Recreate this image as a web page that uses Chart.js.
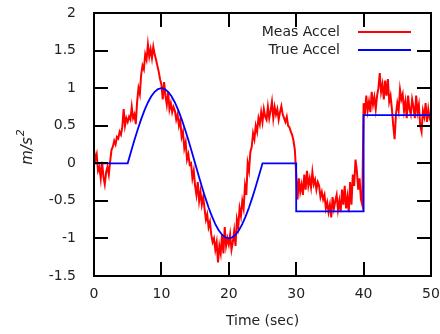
<!DOCTYPE html>
<html>
<head>
<meta charset="utf-8">
<script src="https://cdn.jsdelivr.net/npm/chart.js@4.4.0/dist/chart.umd.min.js"></script>
<style>
  html, body { margin: 0; padding: 0; background: #fff; }
  #wrap { width: 440px; height: 334px; }
</style>
</head>
<body>
<div id="wrap"><canvas id="accelChart" width="440" height="334"></canvas></div>
<script>
// measured acceleration, sampled every 0.2 s from t = 0 to t = 50
var measStep = 0.2;
var measAccel = [
    0.18, 0.05, 0.12, -0.1, -0.05, -0.2, 0.02, -0.18, -0.28, -0.12,
    -0.05, -0.15, 0.03, 0.18, 0.22, 0.3, 0.25, 0.35, 0.33, 0.42,
    0.38, 0.48, 0.72, 0.5, 0.6, 0.55, 0.62, 0.58, 0.75, 0.6,
    0.65, 0.52, 0.82, 1.0, 0.92, 1.18, 1.3, 1.25, 1.45, 1.38,
    1.58, 1.42, 1.52, 1.4, 1.55, 1.45, 1.38, 1.3, 1.22, 1.12,
    1.05, 0.85, 1.08, 0.9, 0.78, 0.95, 0.72, 0.8, 0.68, 0.75,
    0.7, 0.58, 0.65, 0.5, 0.58, 0.35, 0.42, 0.2, 0.28, 0.05,
    0.12, -0.02, 0.0, -0.2, -0.1, -0.3, -0.42, -0.25, -0.5, -0.38,
    -0.55, -0.45, -0.6, -0.75, -0.68, -0.85, -0.78, -0.95, -1.05, -1.0,
    -1.15, -1.05, -1.32, -1.1, -1.2, -0.95, -1.2, -0.85, -1.1, -1.0,
    -1.08, -0.95, -1.15, -1.05, -0.9, -1.1, -0.75, -0.85, -0.6, -0.7,
    -0.5, -0.6, -0.3, -0.42, 0.0, -0.1, 0.15, 0.22, 0.4, 0.32,
    0.5, 0.42, 0.6, 0.52, 0.68, 0.55, 0.72, 0.62, 0.58, 0.75,
    0.6, 0.7, 0.82, 0.6, 0.75, 0.65, 0.72, 0.58, 0.68, 0.76,
    0.65, 0.6, 0.55, 0.62, 0.5, 0.48, 0.42, 0.38, 0.3, 0.18,
    -0.15, -0.48, -0.2, -0.38, -0.28, -0.42, -0.15, -0.35, -0.1, -0.3,
    -0.2, -0.32, -0.12, -0.28, -0.22, -0.35, -0.25, -0.3, -0.45, -0.38,
    -0.48, -0.42, -0.6, -0.52, -0.65, -0.55, -0.72, -0.45, -0.6, -0.5,
    -0.42, -0.62, -0.5, -0.65, -0.35, -0.55, -0.3, -0.6, -0.45, -0.65,
    -0.25, -0.55, -0.15, -0.3, 0.05, -0.1, -0.35, -0.2, -0.48, -0.55,
    0.8, 0.65, 0.9, 0.7, 0.82, 0.68, 0.95, 0.78, 0.88, 0.72,
    0.9, 1.0, 1.2, 0.95, 1.05, 0.85, 1.1, 0.9, 1.12, 0.82,
    0.9, 0.72, 0.5, 0.32, 0.65, 0.8, 0.7, 0.98, 0.85, 0.92,
    0.7, 0.82, 0.6, 0.9, 0.72, 0.65, 0.85, 0.75, 0.6, 0.9,
    0.68, 0.78, 0.5, 0.42, 0.7, 0.62, 0.8, 0.55, 0.72, 0.6,
    0.55
];

// true acceleration
var trueTime = [0, 5, 5.5, 6, 6.5, 7, 7.5, 8, 8.5, 9, 9.5, 10, 10.5, 11, 11.5, 12, 12.5, 13, 13.5, 14, 14.5, 15,
    15.5, 16, 16.5, 17, 17.5, 18, 18.5, 19, 19.5, 20, 20.5, 21, 21.5, 22, 22.5, 23, 23.5, 24, 24.5, 25,
    30, 30, 40, 40, 50];
var trueAccel = [0, 0, 0.156, 0.309, 0.454, 0.588, 0.707, 0.809, 0.891, 0.951, 0.988, 1, 0.988, 0.951, 0.891, 0.809, 0.707, 0.588, 0.454, 0.309, 0.156, 0,
    -0.156, -0.309, -0.454, -0.588, -0.707, -0.809, -0.891, -0.951, -0.988, -1, -0.988, -0.951, -0.891, -0.809, -0.707, -0.588, -0.454, -0.309, -0.156, 0,
    0, -0.64, -0.64, 0.64, 0.64];

var seriesNames = ["Meas Accel", "True Accel"];
var seriesColors = ["#ff0000", "#0000ff"];
var xTicks = [0, 10, 20, 30, 40, 50];
var yTicks = [-1.5, -1, -0.5, 0, 0.5, 1, 1.5, 2];

var measPoints = measAccel.map(function (v, i) { return { x: Math.round(i * measStep * 10) / 10, y: v }; });
var truePoints = trueAccel.map(function (v, i) { return { x: trueTime[i], y: v }; });

var textColor = '#222';
var fontFamily = '"DejaVu Sans", sans-serif';

// gnuplot style frame, inward mirrored ticks, labels and legend
var framePlugin = {
    id: 'frame',
    afterDraw: function (chart) {
        var ctx = chart.ctx, a = chart.chartArea;
        var xs = chart.scales.x, ys = chart.scales.y;
        var tl = 14;
        ctx.save();
        ctx.strokeStyle = '#000000';
        ctx.lineWidth = 2;
        ctx.setLineDash([]);
        xTicks.forEach(function (t) {
            var px = Math.round(xs.getPixelForValue(t));
            ctx.beginPath();
            ctx.moveTo(px, a.bottom); ctx.lineTo(px, a.bottom - tl);
            ctx.moveTo(px, a.top); ctx.lineTo(px, a.top + tl);
            ctx.stroke();
        });
        yTicks.forEach(function (t) {
            var py = Math.round(ys.getPixelForValue(t));
            ctx.beginPath();
            ctx.moveTo(a.left, py); ctx.lineTo(a.left + tl, py);
            ctx.moveTo(a.right, py); ctx.lineTo(a.right - tl, py);
            ctx.stroke();
        });
        ctx.beginPath();
        ctx.rect(a.left, a.top, a.right - a.left, a.bottom - a.top);
        ctx.stroke();

        // tick labels
        ctx.fillStyle = textColor;
        ctx.font = '14px ' + fontFamily;
        ctx.textBaseline = 'middle';
        ctx.textAlign = 'center';
        xTicks.forEach(function (t) {
            ctx.fillText(String(t), xs.getPixelForValue(t), a.bottom + 18);
        });
        ctx.textAlign = 'right';
        yTicks.forEach(function (t) {
            ctx.fillText(String(t), a.left - 18, ys.getPixelForValue(t));
        });

        // axis titles
        ctx.textAlign = 'center';
        ctx.fillText('Time (sec)', (a.left + a.right) / 2, 321);
        ctx.save();
        ctx.translate(32, 147);
        ctx.rotate(-Math.PI / 2);
        ctx.textAlign = 'left';
        ctx.textBaseline = 'alphabetic';
        ctx.font = 'italic 15px ' + fontFamily;
        var w1 = ctx.measureText('m/s').width;
        ctx.font = 'italic 11px ' + fontFamily;
        var w2 = ctx.measureText('2').width;
        var x0 = -(w1 + w2 + 1) / 2;
        ctx.font = 'italic 15px ' + fontFamily;
        ctx.fillText('m/s', x0, 0);
        ctx.font = 'italic 11px ' + fontFamily;
        ctx.fillText('2', x0 + w1 + 1, -8);
        ctx.restore();

        // legend
        ctx.font = '14px ' + fontFamily;
        ctx.textAlign = 'right';
        ctx.textBaseline = 'middle';
        chart.data.datasets.forEach(function (ds, i) {
            var y = 32 + i * 18;
            ctx.fillStyle = textColor;
            ctx.fillText(ds.label, 340, y);
            ctx.strokeStyle = ds.borderColor;
            ctx.lineWidth = 1.8;
            ctx.beginPath();
            ctx.moveTo(358, y); ctx.lineTo(411, y);
            ctx.stroke();
        });
        ctx.restore();
    }
};

var ctx = document.getElementById("accelChart").getContext('2d');
var accelChart = new Chart(ctx, {
    type: 'line',
    data: {
        datasets: [{
            label: seriesNames[0],
            data: measPoints,
            borderColor: seriesColors[0],
            borderWidth: 2,
            pointRadius: 0,
            tension: 0,
            order: 1
        }, {
            label: seriesNames[1],
            data: truePoints,
            borderColor: seriesColors[1],
            borderWidth: 1.8,
            pointRadius: 0,
            tension: 0,
            order: 0
        }]
    },
    options: {
        responsive: false,
        animation: false,
        layout: { padding: { top: 13, right: 9, left: 0, bottom: 0 } },
        plugins: {
            legend: { display: false },
            tooltip: { enabled: false }
        },
        scales: {
            x: {
                type: 'linear',
                min: 0,
                max: 50,
                afterFit: function (scale) { scale.height = 58; scale.paddingLeft = 0; scale.paddingRight = 0; },
                grid: { display: false, drawTicks: false },
                border: { display: false },
                ticks: { display: false }
            },
            y: {
                type: 'linear',
                min: -1.5,
                max: 2,
                afterFit: function (scale) { scale.width = 94; scale.paddingTop = 0; scale.paddingBottom = 0; },
                grid: { display: false, drawTicks: false },
                border: { display: false },
                ticks: { display: false }
            }
        }
    },
    plugins: [framePlugin]
});
</script>
</body>
</html>
